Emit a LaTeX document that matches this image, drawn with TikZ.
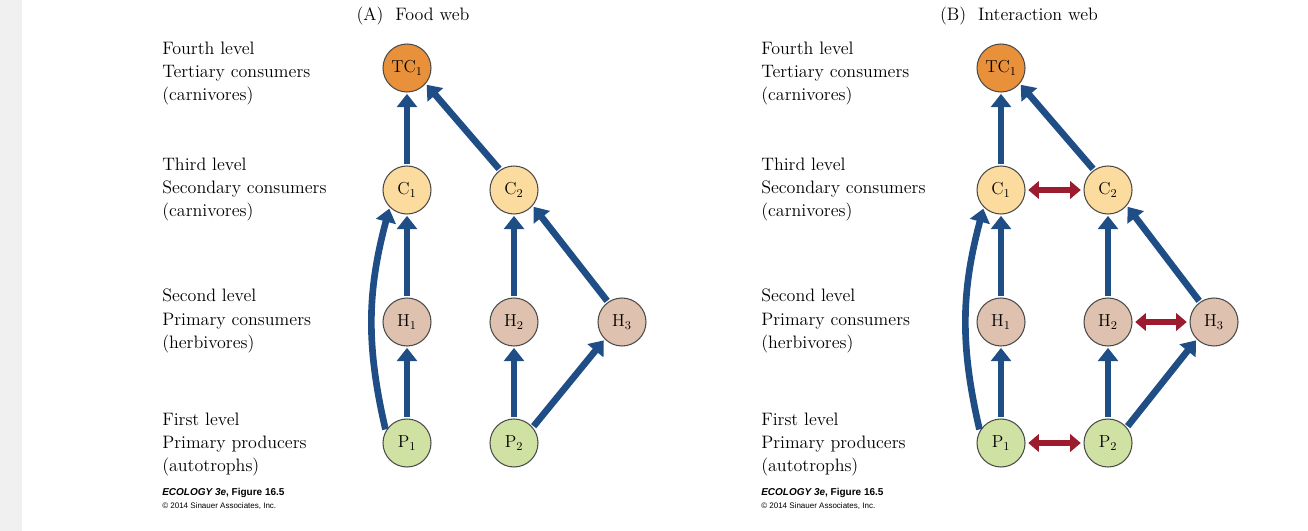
\documentclass[tikz,border=0pt]{standalone}
\usepackage{fontspec}
\newfontfamily\foot{Liberation Sans}
\usetikzlibrary{arrows.meta}
\definecolor{fb}{HTML}{1F4E86}
\definecolor{fr}{HTML}{9B1C2E}
\definecolor{tcc}{HTML}{E8913A}
\definecolor{cc}{HTML}{FBDB9E}
\definecolor{hc}{HTML}{DEC1AE}
\definecolor{pc}{HTML}{CFE2A4}
\begin{document}
\begin{tikzpicture}[x=0.75pt,y=-0.75pt,
  sp/.style={circle,draw=black!70,line width=0.8pt,minimum size=36pt,inner sep=0pt,font=\fontsize{13}{15}\selectfont},
  tc/.style={sp,fill=tcc}, cn/.style={sp,fill=cc}, hn/.style={sp,fill=hc}, pn/.style={sp,fill=pc},
  fa/.style={draw=fb,line width=5pt,-{Triangle[width=15pt,length=10pt]},shorten >=1pt,shorten <=1pt},
  ia/.style={draw=fr,line width=4pt,{Triangle[width=13pt,length=8pt]}-{Triangle[width=13pt,length=8pt]},shorten >=2pt,shorten <=2pt},
  lab/.style={anchor=north west,align=left,font=\fontsize{13.5}{17.3}\selectfont,inner sep=0pt},
  ttl/.style={font=\fontsize{13.5}{16}\selectfont}]
\useasboundingbox (0,0) rectangle (1308,531);
\fill[black!6] (0,0) rectangle (22,531);
\foreach \dx/\p/\t in {0/A/{(A)\ \ Food web},594/B/{(B)\ \ Interaction web}}{
  \node[ttl] (t\p) at (413+\dx+12*\dx/594,16) {\t};
  \node[lab] (l4\p) at (162+\dx+5*\dx/594,42) {Fourth level\\Tertiary consumers\\(carnivores)};
  \node[lab] (l3\p) at (162+\dx+5*\dx/594,158) {Third level\\Secondary consumers\\(carnivores)};
  \node[lab] (l2\p) at (162+\dx+5*\dx/594,289) {Second level\\Primary consumers\\(herbivores)};
  \node[lab] (l1\p) at (162+\dx+5*\dx/594,413) {First level\\Primary producers\\(autotrophs)};
  \node[anchor=north west,inner sep=0pt,align=left,font=\foot\fontsize{7.5}{9.5}\selectfont] (f\p) at (162+\dx+5*\dx/594,488)
    {\textbf{\textit{ECOLOGY 3e}, Figure 16.5}\\{\fontsize{6}{8}\selectfont\textcopyright\ 2014 Sinauer Associates, Inc.}};
  \node[tc] (TC\p) at (407+\dx,68) {TC$_1$};
  \node[cn] (C1\p) at (407+\dx,190) {C$_1$};
  \node[cn] (C2\p) at (514+\dx,190) {C$_2$};
  \node[hn] (H1\p) at (407+\dx,322) {H$_1$};
  \node[hn] (H2\p) at (514+\dx,322) {H$_2$};
  \node[hn] (H3\p) at (622+\dx-2*\dx/594,322) {H$_3$};
  \node[pn] (P1\p) at (407+\dx,443) {P$_1$};
  \node[pn] (P2\p) at (514+\dx,443) {P$_2$};
  \draw[fa] (P1\p) -- (H1\p);
  \draw[fa] (H1\p) -- (C1\p);
  \draw[fa] (C1\p) -- (TC\p);
  \draw[fa] (C2\p.125) -- (TC\p.-40);
  \draw[fa] (P2\p) -- (H2\p);
  \draw[fa] (H2\p) -- (C2\p);
  \draw[fa] (H3\p.125) -- (C2\p.-40);
  \draw[fa] (P2\p.40) -- (H3\p.-135);
  \draw[fa] (P1\p.150) to[bend left=14] (C1\p.-135);
}
\draw[ia] (C1B) -- (C2B);
\draw[ia] (H2B) -- (H3B);
\draw[ia] (P1B) -- (P2B);
\end{tikzpicture}
\end{document}
